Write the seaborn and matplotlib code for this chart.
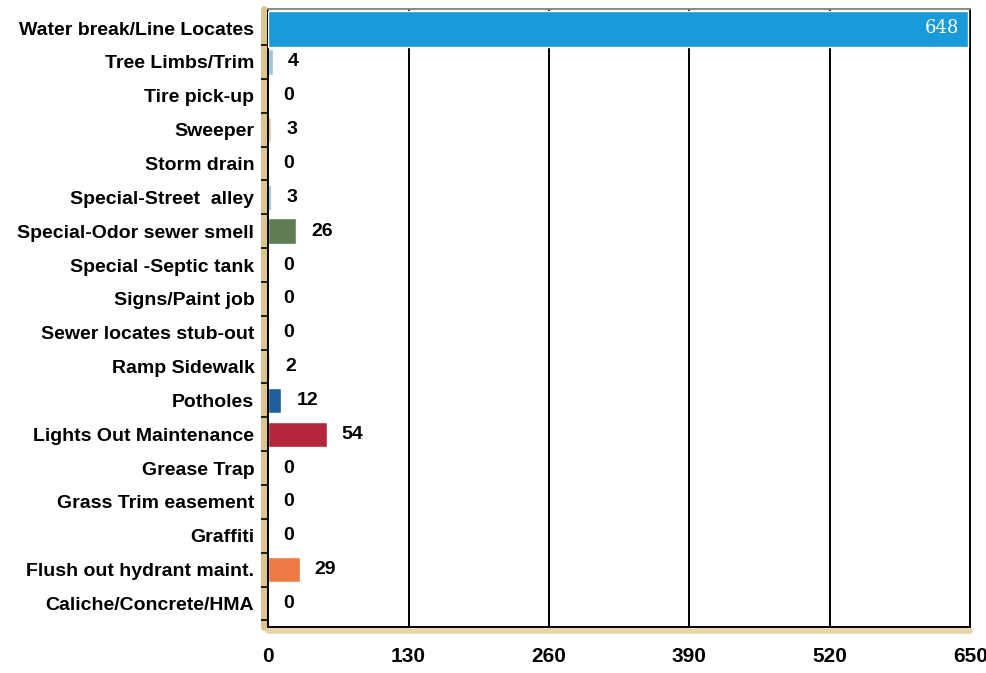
import matplotlib
matplotlib.use("Agg")
import matplotlib.pyplot as plt
import seaborn as sns
import pandas as pd

categories = ["Water break/Line Locates", "Tree Limbs/Trim", "Tire pick-up", "Sweeper",
              "Storm drain", "Special-Street  alley", "Special-Odor sewer smell",
              "Special -Septic tank", "Signs/Paint job", "Sewer locates stub-out",
              "Ramp Sidewalk", "Potholes", "Lights Out Maintenance", "Grease Trap",
              "Grass Trim easement", "Graffiti", "Flush out hydrant maint.",
              "Caliche/Concrete/HMA"]
values = [648, 4, 0, 3, 0, 3, 26, 0, 0, 0, 2, 12, 54, 0, 0, 0, 29, 0]
colors = ["#1a9ad8", "#9cc3e0", "#c9c9c9", "#e0c49a", "#c9c9c9", "#8fbde2", "#5e7d55",
          "#c9c9c9", "#c9c9c9", "#c9c9c9", "#e3b79a", "#1f5f9a", "#b3263c", "#c9c9c9",
          "#c9c9c9", "#c9c9c9", "#f07a45", "#c9c9c9"]
xticks = [0, 130, 260, 390, 520, 650]

sns.set_theme(style="white")
plt.rcParams['font.family'] = ['Liberation Sans Narrow', 'Liberation Sans', 'DejaVu Sans']
plt.rcParams['text.color'] = 'black'
plt.rcParams['xtick.color'] = 'black'
plt.rcParams['ytick.color'] = 'black'

df = pd.DataFrame({"cat": categories, "val": values})
fig = plt.figure(figsize=(9.86, 6.73), dpi=100)
ax = fig.add_axes([0.272, 0.068, 0.712, 0.918])
sns.barplot(data=df, y="cat", x="val", hue="cat", palette=colors, legend=False,
            orient="h", width=0.75, ax=ax, saturation=1)
# thicker first bar
for i, p in enumerate(ax.patches):
    if i == 0:
        y0 = p.get_y()
        h = p.get_height()
        p.set_y(y0 - 0.12)
        p.set_height(h + 0.3)
        p.set_zorder(5)

ax.set_xlim(0, 650)
ax.set_ylim(17.7, -0.55)
ax.set_xticks(xticks)
ax.set_xticklabels([str(t) for t in xticks], fontsize=15, fontweight="bold")
ax.tick_params(axis="x", pad=14, length=0)
ax.tick_params(axis="y", labelsize=14, length=0, pad=10)
ax.set_yticks([i + 0.5 for i in range(len(categories))], minor=True)
ax.tick_params(axis="y", which="minor", length=5, width=1.2, direction="out", color="black", left=True)
for lab in ax.get_yticklabels():
    lab.set_fontweight("bold")
ax.set_xlabel("")
ax.set_ylabel("")
ax.grid(axis="x", color="black", linewidth=1.4)
ax.set_axisbelow(True)
for s in ax.spines.values():
    s.set_visible(True)
    s.set_color("black")
    s.set_linewidth(1.4)
ax.spines["top"].set_color("#888888")

# tan shading along left and bottom axis
ax.plot([-0.006, -0.006], [0, 1], transform=ax.transAxes, color="#dcc690",
        linewidth=5, clip_on=False, zorder=0)
ax.plot([0, 1], [-0.006, -0.006], transform=ax.transAxes, color="#e6d5a8",
        linewidth=4, clip_on=False, zorder=0)

for i, v in enumerate(values):
    if i == 0:
        ax.text(v - 8, i, str(v), color="white", ha="right", va="center",
                fontsize=13, family="DejaVu Serif", zorder=6)
    else:
        ax.text(v + 14, i, str(v), color="black", ha="left", va="center",
                fontsize=14, fontweight="bold")

fig.savefig("out.png", dpi=100)
